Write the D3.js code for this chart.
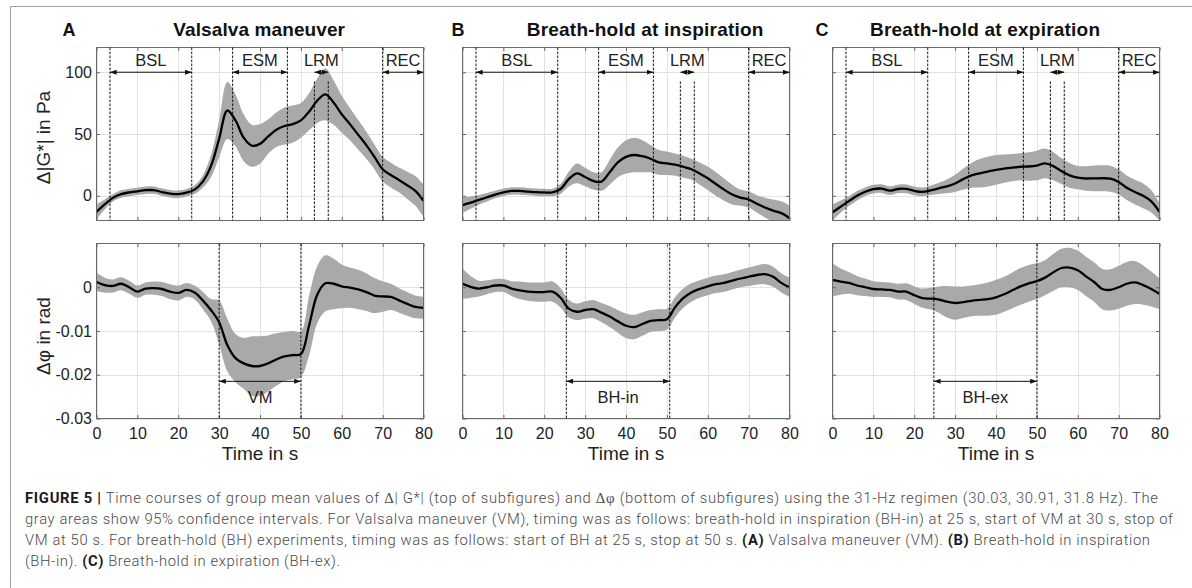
<!DOCTYPE html>
<html>
<head>
<meta charset="utf-8">
<script src="https://cdn.jsdelivr.net/npm/d3@7"></script>
<style>
  body { margin: 0; background: #fff; }
  svg { display: block; font-family: "Liberation Sans", Arial, Helvetica, sans-serif; }
  .cap { white-space: pre; }
</style>
</head>
<body>
<svg id="fig" width="1192" height="588"></svg>
<script>
// ---- sample times (s) ----
const time = [0, 2, 4, 6, 8, 10, 12, 14, 16, 18, 20, 22, 24, 26, 28, 30, 32, 34, 36, 38, 40,
              42, 44, 46, 48, 50, 52, 54, 56, 58, 60, 62, 64, 66, 68, 70, 72, 74, 76, 78, 80];

// ---- Valsalva maneuver: Δ|G*| (Pa) mean and 95% CI half-width ----
const vmG   = [-13, -7, -1.7, 1.4, 2.7, 3.6, 4.5, 4.6, 3.0, 1.7, 1.3, 2.5, 5.0, 11.5, 24, 46, 69, 61, 47, 40.5, 42,
               48, 53.5, 56.5, 58, 61, 68, 77, 82, 75.5, 66, 58, 49.5, 41, 31.5, 21.5, 16.8, 12.8, 8.5, 4, -4];
const vmGci = [6, 4, 3, 3, 3, 3, 3, 3, 3, 3, 3, 3, 3.5, 5, 9, 15, 23, 21, 19, 17, 16,
               14, 14, 15, 15, 14, 15, 18, 21, 18, 15, 13, 12, 11, 10, 10, 10, 10, 11, 12, 13];

// ---- Valsalva maneuver: Δφ (rad) ----
const vmPhi   = [0.0012, 0.0005, 0.0003, 0.0008, 0, -0.001, -0.0003, -0.0002, -0.0004, -0.001, -0.0013,
                 -0.0006, -0.0012, -0.003, -0.0052, -0.008, -0.0132, -0.0162, -0.0174, -0.018, -0.018,
                 -0.0174, -0.0165, -0.0158, -0.0155, -0.0153, -0.0088, -0.0017, 0.0009, 0.0008, 0.0002,
                 -0.0001, -0.0005, -0.0011, -0.0019, -0.0021, -0.0022, -0.003, -0.0038, -0.0045, -0.0047];
const vmPhiCi = [0.0021, 0.0017, 0.0015, 0.0015, 0.0015, 0.0014, 0.0014, 0.0015, 0.0016, 0.0017, 0.0017,
                 0.0016, 0.0016, 0.002, 0.0025, 0.005, 0.006, 0.0055, 0.0058, 0.0068, 0.0068,
                 0.0064, 0.006, 0.0056, 0.0055, 0.0052, 0.0068, 0.0065, 0.0064, 0.0058, 0.005,
                 0.0046, 0.0045, 0.0043, 0.004, 0.0035, 0.003, 0.0028, 0.0027, 0.0026, 0.0025];

// ---- Breath-hold at inspiration ----
const bhiG   = [-7.5, -5.5, -3.3, -1.2, 1, 2.8, 3.9, 3.9, 3.4, 2.9, 2.7, 2.7, 5.5, 13.5, 18.2, 15.2, 12, 11.5, 19, 27, 31.5,
                33, 32, 30, 27, 26.3, 25.2, 23.5, 21.5, 18, 14.2, 9.5, 5, 1, -1.5, -3, -6.5, -9.5, -12, -14, -18];
const bhiGci = [6.5, 5, 4, 3.5, 3, 3, 3, 3, 3, 3, 3, 3, 4, 6, 8, 7.5, 7, 7.5, 10, 12, 13.5,
                14, 13, 11, 10, 9.5, 9, 9, 8.5, 9, 9.5, 9.5, 9, 8, 6.5, 6.5, 7, 8, 9, 9.5, 10];
const bhiPhi   = [0.0008, 0.0001, -0.0003, 0, 0.0004, 0.0004, -0.0003, -0.0007, -0.001, -0.0011, -0.0011,
                  -0.001, -0.0024, -0.0049, -0.0056, -0.0052, -0.005, -0.0058, -0.0067, -0.0078, -0.0088,
                  -0.0091, -0.0084, -0.0077, -0.0075, -0.0073, -0.0046, -0.0025, -0.0012, -0.0004, 0.0002,
                  0.0007, 0.001, 0.0015, 0.002, 0.0024, 0.0028, 0.003, 0.0024, 0.001, 0];
const bhiPhiCi = [0.0035, 0.0025, 0.0018, 0.0016, 0.0015, 0.0015, 0.0017, 0.002, 0.0021, 0.0022, 0.0022,
                  0.0023, 0.0022, 0.002, 0.0019, 0.002, 0.0021, 0.0022, 0.0024, 0.0026, 0.0028,
                  0.0028, 0.0027, 0.0025, 0.0025, 0.0024, 0.0023, 0.0022, 0.0021, 0.002, 0.002,
                  0.002, 0.002, 0.002, 0.002, 0.0021, 0.0022, 0.0023, 0.0023, 0.0022, 0.0022];

// ---- Breath-hold at expiration ----
const bheG   = [-13.4, -8.8, -4.3, 0, 3.3, 5.4, 5.8, 4.2, 5.5, 5.6, 4, 3.2, 4.4, 6, 7.6, 10, 13.5, 16.5, 18.2, 19.6, 21,
                22, 22.8, 23.5, 23.7, 24.5, 26.2, 24, 20, 16.5, 14.7, 14, 14.1, 14.2, 13.8, 11.2, 6.5, 3, 0, -4.5, -13];
const bheGci = [6.5, 5, 4, 3.8, 3.5, 3.5, 3.5, 3.5, 3.5, 3.5, 3.5, 3.5, 3.8, 4.5, 5.5, 7, 8.5, 10, 11.5, 12, 12,
                11.5, 11, 11, 11.5, 12, 12, 11.5, 10.5, 10, 9.5, 10, 10.5, 10.5, 10.5, 10, 10, 10, 10, 9, 7];
const bhePhi   = [0.0017, 0.0013, 0.001, 0.0004, 0, -0.0004, -0.0005, -0.0006, -0.001, -0.001, -0.0018,
                  -0.0025, -0.0026, -0.0028, -0.0033, -0.0036, -0.0034, -0.0031, -0.0029, -0.0027, -0.0023,
                  -0.0016, -0.0007, 0.0002, 0.0009, 0.0014, 0.0022, 0.0034, 0.0044, 0.0045, 0.0039,
                  0.0025, 0.0012, -0.0004, -0.0006, 0, 0.0008, 0.0011, 0.0005, -0.0004, -0.0015];
const bhePhiCi = [0.0038, 0.003, 0.0025, 0.0022, 0.002, 0.0018, 0.0017, 0.0017, 0.0018, 0.0019, 0.002,
                  0.0022, 0.0025, 0.003, 0.0036, 0.0038, 0.0036, 0.0035, 0.0036, 0.0038, 0.004,
                  0.004, 0.0041, 0.0042, 0.0042, 0.0041, 0.004, 0.0042, 0.0044, 0.0045, 0.0045,
                  0.0045, 0.0045, 0.0046, 0.0047, 0.0049, 0.005, 0.0049, 0.0045, 0.004, 0.0035];

// ---- ticks, labels, phases ----
const xTicks = [0, 10, 20, 30, 40, 50, 60, 70, 80];
const gTicks = [0, 50, 100];
const phiTicks = [-0.03, -0.02, -0.01, 0];
const phiTickLabels = ["-0.03", "-0.02", "-0.01", "0"];
const panelLetters = ["A", "B", "C"];
const panelTitles = ["Valsalva maneuver", "Breath-hold at inspiration", "Breath-hold at expiration"];
const phaseNames = ["BSL", "ESM", "LRM", "REC"];
const phaseStart = [3.3, 33.3, 53.3, 70];
const phaseEnd   = [23.3, 46.7, 56.7, 80];
const holdNames = ["VM", "BH-in", "BH-ex"];
const holdStart = [30, 25.4, 24.8];
const holdEnd   = [50, 50.7, 50];

const panels = [
  { g: vmG,  gci: vmGci,  phi: vmPhi,  phiCi: vmPhiCi },
  { g: bhiG, gci: bhiGci, phi: bhiPhi, phiCi: bhiPhiCi },
  { g: bheG, gci: bheGci, phi: bhePhi, phiCi: bhePhiCi }
];

// ---- layout ----
const cols = [[96.5, 423.5], [462.5, 789.5], [832.5, 1159.5]];
const topRow = [47.5, 220.5];
const botRow = [243.5, 418.5];
const titleBox = [[173.3, 171.7], [526.7, 236.7], [870, 230]];
const letterX = [69, 458, 822];

const svg = d3.select("#fig");
const defs = svg.append("defs");
defs.append("marker")
  .attr("id", "head")
  .attr("viewBox", "0 0 8 6")
  .attr("refX", 8).attr("refY", 3)
  .attr("markerWidth", 7).attr("markerHeight", 5)
  .attr("markerUnits", "userSpaceOnUse")
  .attr("orient", "auto-start-reverse")
  .append("path").attr("d", "M0,0L8,3L0,6Z").attr("fill", "#111");

// outer frame of the figure
svg.append("path")
  .attr("d", "M10.5,588V6.5H1192")
  .attr("fill", "none").attr("stroke", "#a0a0a0").attr("stroke-width", 1);

let clipId = 0;
function subplot(col, row, domain, mean, ci, yTicks, yLabels, showX, showY) {
  const x = d3.scaleLinear().domain([0, 80]).range(col);
  const y = d3.scaleLinear().domain(domain).range([row[1], row[0]]);
  const g = svg.append("g");
  const id = "clip" + (clipId++);
  defs.append("clipPath").attr("id", id).append("rect")
    .attr("x", col[0]).attr("y", row[0]).attr("width", col[1] - col[0]).attr("height", row[1] - row[0]);

  // grid
  const grid = g.append("g").attr("stroke", "#e2e2e2").attr("stroke-width", 1);
  xTicks.forEach(t => grid.append("line")
    .attr("x1", Math.round(x(t)) + 0.5).attr("x2", Math.round(x(t)) + 0.5)
    .attr("y1", row[0]).attr("y2", row[1]));
  yTicks.forEach(v => grid.append("line")
    .attr("x1", col[0]).attr("x2", col[1])
    .attr("y1", Math.round(y(v)) + 0.5).attr("y2", Math.round(y(v)) + 0.5));

  const body = g.append("g").attr("clip-path", `url(#${id})`);
  const curve = d3.curveCatmullRom.alpha(0.5);
  const area = d3.area()
    .x((d, i) => x(time[i]))
    .y0((d, i) => y(mean[i] - ci[i]))
    .y1((d, i) => y(mean[i] + ci[i]))
    .curve(curve);
  body.append("path").datum(mean).attr("d", area).attr("fill", "#a9a9a9");
  const line = d3.line().x((d, i) => x(time[i])).y(d => y(d)).curve(curve);
  body.append("path").datum(mean).attr("d", line)
    .attr("fill", "none").attr("stroke", "#000").attr("stroke-width", 2.3);

  // axes with inward ticks on all four sides
  const tk = 3.5;
  const ax = d3.axisBottom(x).tickValues(xTicks).tickSize(-tk).tickPadding(9)
    .tickFormat(showX ? d3.format("d") : "");
  const axT = d3.axisTop(x).tickValues(xTicks).tickSize(-tk).tickFormat("");
  const ay = d3.axisLeft(y).tickValues(yTicks).tickSize(-tk).tickPadding(4.5)
    .tickFormat((d, i) => showY ? yLabels[i] : "");
  const ayR = d3.axisRight(y).tickValues(yTicks).tickSize(-tk).tickFormat("");
  [[ax, `translate(0,${row[1]})`], [axT, `translate(0,${row[0]})`],
   [ay, `translate(${col[0]},0)`], [ayR, `translate(${col[1]},0)`]].forEach(([a, tr]) => {
    const s = g.append("g").attr("transform", tr).call(a);
    s.select(".domain").remove();
    s.selectAll("line").attr("stroke", "#666");
    s.selectAll("text").attr("fill", "#222").attr("font-size", 16)
      .attr("font-family", '"Liberation Sans", Arial, sans-serif');
  });

  g.append("rect")
    .attr("x", col[0]).attr("y", row[0]).attr("width", col[1] - col[0]).attr("height", row[1] - row[0])
    .attr("fill", "none").attr("stroke", "#6a6a6a").attr("stroke-width", 1);
  return { x, y, g };
}

function dashed(g, xp, y0, y1) {
  g.append("line").attr("x1", xp).attr("x2", xp).attr("y1", y0).attr("y2", y1)
    .attr("stroke", "#111").attr("stroke-width", 1).attr("stroke-dasharray", "2.5,1.5");
}
function arrow(g, xa, xb, ya) {
  g.append("line").attr("x1", xa).attr("x2", xb).attr("y1", ya).attr("y2", ya)
    .attr("stroke", "#111").attr("stroke-width", 1)
    .attr("marker-start", "url(#head)").attr("marker-end", "url(#head)");
}
function label(g, xp, yp, txt) {
  g.append("text").attr("x", xp).attr("y", yp).attr("text-anchor", "middle")
    .attr("font-size", 16.5).attr("fill", "#222").text(txt);
}

panels.forEach((p, i) => {
  const col = cols[i];
  // upper: Δ|G*|
  const top = subplot(col, topRow, [-20, 120], p.g, p.gci, gTicks, gTicks.map(String), false, i === 0);
  phaseNames.forEach((nm, k) => {
    const a = top.x(phaseStart[k]), b = top.x(phaseEnd[k]);
    const lineTop = nm === "LRM" ? top.y(92.5) : topRow[0];
    dashed(top.g, a, lineTop, topRow[1]);
    if (phaseEnd[k] < 80) dashed(top.g, b, lineTop, topRow[1]);
    arrow(top.g, a, b, top.y(100));
    label(top.g, (a + b) / 2, top.y(100) - 6, nm);
  });

  // lower: Δφ
  const bot = subplot(col, botRow, [-0.03, 0.01], p.phi, p.phiCi, phiTicks, phiTickLabels, true, i === 0);
  const a = bot.x(holdStart[i]), b = bot.x(holdEnd[i]);
  dashed(bot.g, a, botRow[0], botRow[1]);
  dashed(bot.g, b, botRow[0], botRow[1]);
  arrow(bot.g, a, b, bot.y(-0.0215));
  label(bot.g, (a + b) / 2, bot.y(-0.0215) + 21.5, holdNames[i]);

  // titles
  svg.append("text").attr("x", letterX[i]).attr("y", 36).attr("text-anchor", "middle")
    .attr("font-size", 18).attr("font-weight", "bold").attr("fill", "#111").text(panelLetters[i]);
  svg.append("text").attr("x", titleBox[i][0]).attr("y", 36)
    .attr("textLength", titleBox[i][1]).attr("lengthAdjust", "spacing")
    .attr("font-size", 19).attr("font-weight", "bold").attr("fill", "#111").text(panelTitles[i]);

  // x-axis title
  svg.append("text").attr("x", (col[0] + col[1]) / 2).attr("y", 460).attr("text-anchor", "middle")
    .attr("font-size", 19).attr("fill", "#222").text("Time in s");
});

// y-axis titles
svg.append("text").attr("transform", "translate(50,137.5) rotate(-90)").attr("text-anchor", "middle")
  .attr("font-size", 19).attr("fill", "#222").text("Δ|G*| in Pa");
svg.append("text").attr("transform", "translate(50,336) rotate(-90)").attr("text-anchor", "middle")
  .attr("font-size", 19).attr("fill", "#222").text("Δφ in rad");

// caption
const captionLines = [
  [["b", "FIGURE 5 |"], ["r", " Time courses of group mean values of "], ["s", "Δ"], ["r", "| G*| (top of subfigures) and "],
   ["s", "Δφ"], ["r", " (bottom of subfigures) using the 31-Hz regimen (30.03, 30.91, 31.8 Hz). The"]],
  [["r", "gray areas show 95% confidence intervals. For Valsalva maneuver (VM), timing was as follows: breath-hold in inspiration (BH-in) at 25 s, start of VM at 30 s, stop of"]],
  [["r", "VM at 50 s. For breath-hold (BH) experiments, timing was as follows: start of BH at 25 s, stop at 50 s. "],
   ["b", "(A)"], ["r", " Valsalva maneuver (VM). "], ["b", "(B)"], ["r", " Breath-hold in inspiration"]],
  [["r", "(BH-in). "], ["b", "(C)"], ["r", " Breath-hold in expiration (BH-ex)."]]
];
const captionWidths = [1133, 1148, 1125, 315];
const captionY = [503, 524, 545, 566];
captionLines.forEach((parts, li) => {
  const t = svg.append("text").attr("class", "cap")
    .attr("x", 25).attr("y", captionY[li])
    .attr("textLength", captionWidths[li]).attr("lengthAdjust", "spacing")
    .attr("font-size", 14.8).attr("font-family", "Roboto, 'Liberation Sans', sans-serif")
    .attr("font-weight", 300).attr("fill", "#4a4a4a");
  parts.forEach(([kind, s]) => {
    const ts = t.append("tspan").text(s);
    if (kind === "b") ts.attr("font-weight", 700).attr("fill", "#1a1a1a");
    if (kind === "s") ts.attr("font-family", "'Liberation Serif', 'DejaVu Serif', serif").attr("font-weight", 400);
  });
});
</script>
</body>
</html>
